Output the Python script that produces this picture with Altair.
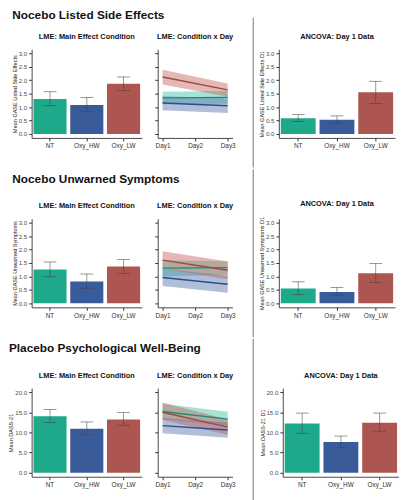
import altair as alt
import pandas as pd

conditions = ["NT", "Oxy_HW", "Oxy_LW"]
bar_colors = ["#1ea98b", "#3a5b9a", "#ad5651"]
band_colors = ["#3cc0a0", "#4f6fae", "#c0625c"]
line_colors = ["#1f8a7c", "#2c4c8a", "#9c4844"]
days = ["Day1", "Day2", "Day3"]

row_titles = ["Nocebo Listed Side Effects", "Nocebo Unwarned Symptoms", "Placebo Psychological Well-Being"]
ytitles_lme = ["Mean GASE Listed Side Effects", "Mean GASE Unwarned Symptoms", "Mean DASS-21"]
ytitles_anc = ["Mean GASE Listed Side Effects D1", "Mean GASE Unwarned Symptoms D1", "Mean DASS-21 D1"]

# Row 1: Listed side effects (0-3)
lse_main_mean = [1.30, 1.08, 1.87]
lse_main_lo = [1.05, 0.83, 1.62]
lse_main_hi = [1.57, 1.35, 2.12]
lse_d1_mean = [1.34, 1.15, 2.12]
lse_d1_lo = [1.10, 0.88, 1.84]
lse_d1_hi = [1.57, 1.40, 2.39]
lse_d3_mean = [1.36, 1.05, 1.64]
lse_d3_lo = [1.12, 0.78, 1.38]
lse_d3_hi = [1.60, 1.33, 1.88]
lse_anc_mean = [0.58, 0.53, 1.55]
lse_anc_lo = [0.46, 0.40, 1.13]
lse_anc_hi = [0.72, 0.67, 1.96]

# Row 2: Unwarned symptoms (0-3)
us_main_mean = [1.26, 0.81, 1.37]
us_main_lo = [0.99, 0.56, 1.11]
us_main_hi = [1.54, 1.09, 1.63]
us_d1_mean = [1.31, 0.96, 1.61]
us_d1_lo = [1.00, 0.64, 1.29]
us_d1_hi = [1.60, 1.29, 1.94]
us_d3_mean = [1.33, 0.71, 1.23]
us_d3_lo = [1.06, 0.39, 0.90]
us_d3_hi = [1.57, 1.03, 1.56]
us_anc_mean = [0.55, 0.42, 1.12]
us_anc_lo = [0.32, 0.30, 0.77]
us_anc_hi = [0.80, 0.59, 1.48]

# Row 3: DASS-21 (0-20)
dass_main_mean = [14.0, 10.9, 13.2]
dass_main_lo = [12.5, 9.4, 11.8]
dass_main_hi = [15.7, 12.6, 14.9]
dass_d1_mean = [15.2, 11.7, 15.0]
dass_d1_lo = [13.3, 9.8, 13.1]
dass_d1_hi = [17.1, 13.6, 17.4]
dass_d3_mean = [13.3, 10.6, 11.3]
dass_d3_lo = [11.6, 8.7, 9.4]
dass_d3_hi = [15.1, 12.5, 13.2]
dass_anc_mean = [12.2, 7.6, 12.4]
dass_anc_lo = [9.8, 6.2, 10.3]
dass_anc_hi = [14.8, 9.1, 14.8]

ticks_3 = [0.0, 0.5, 1.0, 1.5, 2.0, 2.5, 3.0]
ticks_20 = [0.0, 5.0, 10.0, 15.0, 20.0]
dom_3 = [-0.15, 3.15]
dom_20 = [-1.0, 21.0]

H = 90
W1, W2, W3 = 112, 76, 118


def panel_title(t):
    return alt.TitleParams(t, fontSize=7.5, fontWeight="bold", anchor="middle", offset=9, color="#111111")


def yaxis(title, ticks, labels=True):
    return alt.Axis(title=title, values=ticks, format=".1f", labels=labels, labelOverlap=False)


def bar_panel(means, lo, hi, title, ytitle, domain, ticks, width):
    df = pd.DataFrame({"cond": conditions, "mean": means, "lo": lo, "hi": hi})
    base = alt.Chart(df)
    xenc = alt.X("cond:N", sort=conditions, title=None,
                 scale=alt.Scale(domain=conditions, paddingInner=0.1, paddingOuter=0.05),
                 axis=alt.Axis(labelAngle=0))
    yscale = alt.Scale(domain=domain, nice=False, zero=False)
    bars = base.mark_bar().encode(
        x=xenc,
        y=alt.Y("mean:Q", scale=yscale, axis=yaxis(ytitle, ticks)),
        y2=alt.datum(0),
        color=alt.Color("cond:N", scale=alt.Scale(domain=conditions, range=bar_colors), legend=None),
    )
    err = base.mark_rule(color="#444444", strokeWidth=0.7, opacity=0.8).encode(
        x=xenc, y=alt.Y("lo:Q", scale=yscale, axis=yaxis(ytitle, ticks)), y2="hi:Q")
    cap_lo = base.mark_tick(color="#444444", thickness=0.7, size=13, opacity=0.8).encode(
        x=xenc, y=alt.Y("lo:Q", scale=yscale, axis=yaxis(ytitle, ticks)))
    cap_hi = base.mark_tick(color="#444444", thickness=0.7, size=13, opacity=0.8).encode(
        x=xenc, y=alt.Y("hi:Q", scale=yscale, axis=yaxis(ytitle, ticks)))
    return alt.layer(bars, err, cap_lo, cap_hi).properties(
        width=width, height=H, title=panel_title(title))


def line_panel(d1m, d1l, d1h, d3m, d3l, d3h, domain, ticks):
    rows = []
    for i, c in enumerate(conditions):
        rows.append({"cond": c, "day": "Day1", "mean": d1m[i], "lo": d1l[i], "hi": d1h[i]})
        rows.append({"cond": c, "day": "Day3", "mean": d3m[i], "lo": d3l[i], "hi": d3h[i]})
    df = pd.DataFrame(rows)
    base = alt.Chart(df)
    xenc = alt.X("day:O", title=None, scale=alt.Scale(type="point", domain=days, padding=0.15),
                 axis=alt.Axis(labelAngle=0))
    yscale = alt.Scale(domain=domain, nice=False, zero=False)
    band = base.mark_area(opacity=0.45).encode(
        x=xenc,
        y=alt.Y("lo:Q", scale=yscale, axis=yaxis(None, ticks, labels=False)),
        y2="hi:Q",
        color=alt.Color("cond:N", scale=alt.Scale(domain=conditions, range=band_colors), legend=None),
        order=alt.Order("cond:N"),
    )
    line = base.mark_line(strokeWidth=1.4).encode(
        x=xenc,
        y=alt.Y("mean:Q", scale=yscale, axis=yaxis(None, ticks, labels=False)),
        color=alt.Color("cond:N", scale=alt.Scale(domain=conditions, range=line_colors), legend=None),
        detail="cond:N",
    )
    return alt.layer(band, line).resolve_scale(color="independent").properties(
        width=W2, height=H, title=panel_title("LME: Condition x Day"))


def divider(top, bottom):
    return alt.Chart(pd.DataFrame({"a": [0]})).mark_rule(color="#8a8a8a", strokeWidth=1.2).encode(
        x=alt.value(13), y=alt.value(-top), y2=alt.value(H + bottom)
    ).properties(width=14, height=H)


def row_title(t, off):
    return alt.TitleParams(t, fontSize=12, fontWeight="bold", anchor="start", offset=off, color="#111111")


data_rows = [
    (lse_main_mean, lse_main_lo, lse_main_hi, lse_d1_mean, lse_d1_lo, lse_d1_hi,
     lse_d3_mean, lse_d3_lo, lse_d3_hi, lse_anc_mean, lse_anc_lo, lse_anc_hi, dom_3, ticks_3),
    (us_main_mean, us_main_lo, us_main_hi, us_d1_mean, us_d1_lo, us_d1_hi,
     us_d3_mean, us_d3_lo, us_d3_hi, us_anc_mean, us_anc_lo, us_anc_hi, dom_3, ticks_3),
    (dass_main_mean, dass_main_lo, dass_main_hi, dass_d1_mean, dass_d1_lo, dass_d1_hi,
     dass_d3_mean, dass_d3_lo, dass_d3_hi, dass_anc_mean, dass_anc_lo, dass_anc_hi, dom_20, ticks_20),
]

div_top = [32, 50, 50]
div_bottom = [30, 30, 40]
title_offsets = [11, 17, 17]

rows = []
for k, r in enumerate(data_rows):
    (mm, ml, mh, d1m, d1l, d1h, d3m, d3l, d3h, am, al, ah, dom, tks) = r
    p1 = bar_panel(mm, ml, mh, "LME: Main Effect Condition", ytitles_lme[k], dom, tks, W1)
    p2 = line_panel(d1m, d1l, d1h, d3m, d3l, d3h, dom, tks)
    p3 = bar_panel(am, al, ah, "ANCOVA: Day 1 Data", ytitles_anc[k], dom, tks, W3)
    left = alt.hconcat(p1, p2, spacing=12).properties(title=row_title(row_titles[k], title_offsets[k]))
    rows.append(alt.hconcat(left, divider(div_top[k], div_bottom[k]), p3, spacing=5))

chart = alt.vconcat(*rows, spacing=0,
                    padding={"left": 0, "top": -3, "right": 0, "bottom": 0}).configure(
    font="Liberation Sans"
).configure_view(stroke=None).configure_axis(
    grid=False,
    labelFontSize=6.2,
    labelColor="#4d4d4d",
    titleFontSize=5.6,
    titleFontWeight="normal",
    titleColor="#222222",
    tickColor="#333333",
    tickSize=3,
    domainColor="#333333",
    domainWidth=0.9,
    labelPadding=2,
    titlePadding=1,
).configure_axisX(labelFontSize=6.5, labelColor="#333333")

chart.save("out.html", embed_options={"renderer": "svg", "actions": False})
